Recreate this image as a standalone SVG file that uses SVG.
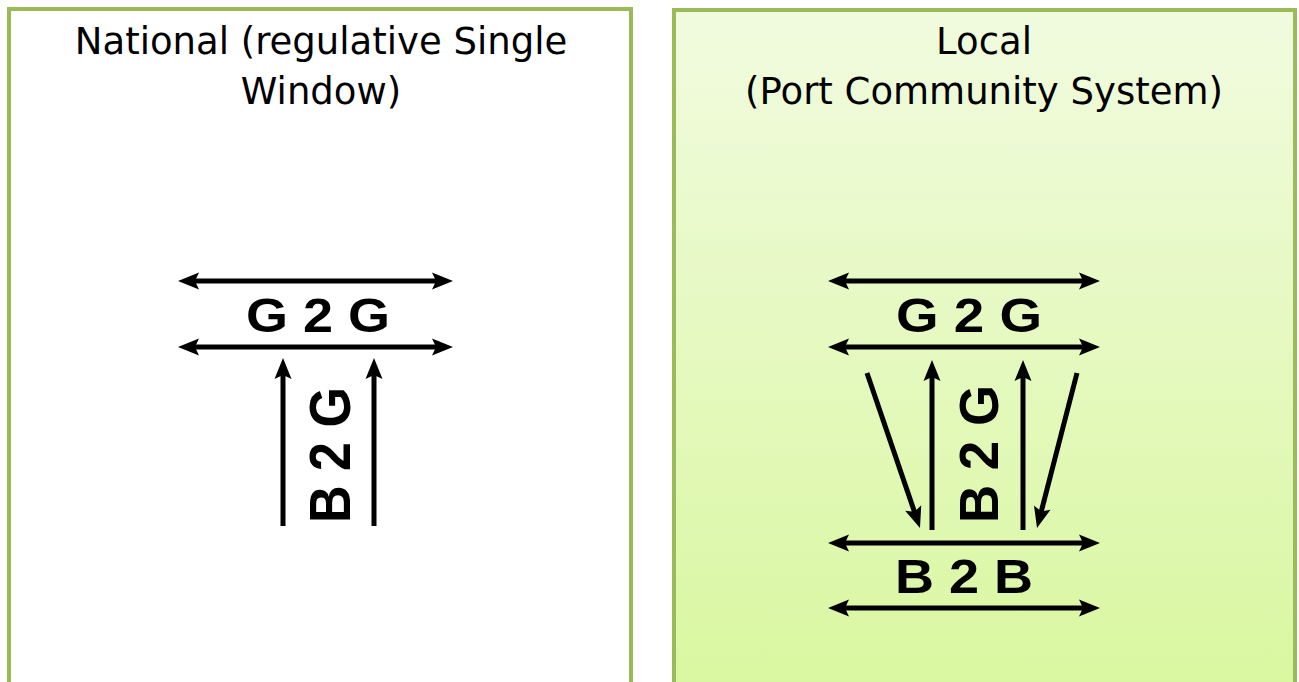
<svg xmlns="http://www.w3.org/2000/svg" width="1299" height="682" viewBox="0 0 1299 682">
<style>
.box{stroke:#9BBB59;stroke-width:4}
.title{font-family:"DejaVu Sans","Liberation Sans",sans-serif;font-size:37px;fill:#000;text-anchor:middle}
.lbl{font-family:"Liberation Sans",Arial,sans-serif;font-weight:bold;font-size:48px;fill:#000}
.arr{stroke:#000;stroke-width:5;fill:none}
.one{marker-end:url(#ah)}
.two{marker-start:url(#ah);marker-end:url(#ah)}
</style>
<defs>
<linearGradient id="gr" x1="0" y1="0" x2="0" y2="1">
<stop offset="0" stop-color="#F1FBDF"/>
<stop offset="1" stop-color="#D8F79E"/>
</linearGradient>
<marker id="ah" markerUnits="userSpaceOnUse" markerWidth="22" markerHeight="20" viewBox="0 0 22 20" refX="10" refY="10" orient="auto-start-reverse">
<path d="M1,1.5 L22,10 L1,18.5 L5,10 z" fill="#000"/>
</marker>
</defs>
<rect width="1299" height="682" fill="#fff"/>
<g id="national">
<rect class="box" x="9" y="9" width="622" height="700" fill="#fff"/>
<text class="title" x="321" y="54">National (regulative Single</text>
<text class="title" x="321" y="104">Window)</text>
</g>
<g id="local">
<rect class="box" x="674" y="10" width="621" height="700" fill="url(#gr)"/>
<text class="title" x="984" y="54">Local</text>
<text class="title" x="984" y="104">(Port Community System)</text>
</g>
<g id="labels">
<text class="lbl" x="246" y="332" textLength="144" lengthAdjust="spacingAndGlyphs">G 2 G</text>
<text class="lbl" x="896" y="332" textLength="146" lengthAdjust="spacingAndGlyphs">G 2 G</text>
<text class="lbl" x="895" y="593" textLength="138" lengthAdjust="spacingAndGlyphs">B 2 B</text>
<text class="lbl" transform="translate(350,523) rotate(-90)" x="0" y="0" style="font-size:58px" textLength="136" lengthAdjust="spacingAndGlyphs">B 2 G</text>
<text class="lbl" transform="translate(998,523) rotate(-90)" x="0" y="0" style="font-size:56px" textLength="138" lengthAdjust="spacingAndGlyphs">B 2 G</text>
</g>
<g id="connectors">
<line class="arr two" x1="190" y1="281" x2="441" y2="281"/>
<line class="arr two" x1="190" y1="347" x2="441" y2="347"/>
<line class="arr one" x1="283" y1="526" x2="283" y2="370"/>
<line class="arr one" x1="374" y1="526" x2="374" y2="370"/>
<line class="arr two" x1="840" y1="281" x2="1088" y2="281"/>
<line class="arr two" x1="840" y1="347" x2="1088" y2="347"/>
<line class="arr two" x1="840" y1="543" x2="1088" y2="543"/>
<line class="arr two" x1="840" y1="608" x2="1088" y2="608"/>
<line class="arr one" x1="932" y1="530" x2="932" y2="372"/>
<line class="arr one" x1="1023" y1="530" x2="1023" y2="372"/>
<line class="arr one" x1="867" y1="373" x2="916.1" y2="516.6"/>
<line class="arr one" x1="1077" y1="373" x2="1040" y2="516.4"/>
</g>
</svg>
